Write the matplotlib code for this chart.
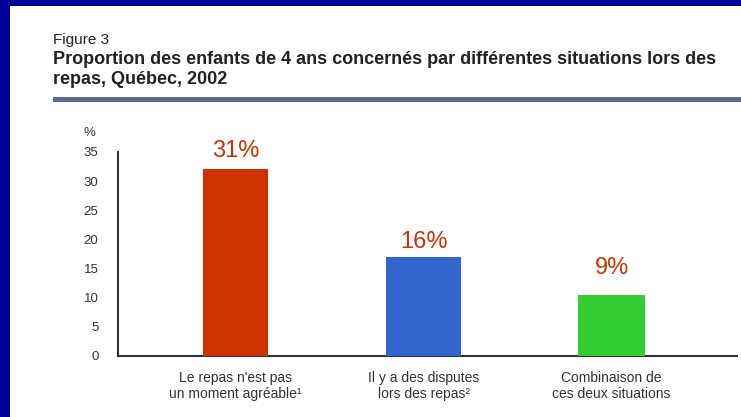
import matplotlib
matplotlib.use("Agg")
import matplotlib.pyplot as plt
from matplotlib.patches import Rectangle

# data
categories = ["Le repas n'est pas\nun moment agréable\u00b9",
              "Il y a des disputes\nlors des repas\u00b2",
              "Combinaison de\nces deux situations"]
values = [32, 17, 10.5]
value_labels = ["31%", "16%", "9%"]
yticks = [0, 5, 10, 15, 20, 25, 30, 35]

# styles
bar_colors = ["#CC3300", "#3366CC", "#33CC33"]
bar_widths = [0.35, 0.40, 0.36]
label_offsets = [18, 15, 27]  # px above bar top
font = ["Liberation Sans", "DejaVu Sans"]
W, H = 741, 417

fig = plt.figure(figsize=(W / 100, H / 100), dpi=100)
fig.patch.set_facecolor("#000099")

# white page inside navy frame
fig.add_artist(Rectangle((10 / W, 0), 1, (H - 6) / H, transform=fig.transFigure,
                         facecolor="white", edgecolor="none", zorder=0))
# rule under the title
fig.add_artist(Rectangle((53 / W, (H - 102) / H), 1, 5 / H, transform=fig.transFigure,
                         facecolor="#5A6A9A", edgecolor="none", zorder=1))

fig.text(53 / W, 1 - 40 / H, "Figure 3", fontsize=11, family=font,
         color="#222222", va="center", ha="left")
fig.text(53 / W, 1 - 60 / H,
         "Proportion des enfants de 4 ans concernés par différentes situations lors des",
         fontsize=13, weight="bold", family=font, color="#222222", va="center", ha="left")
fig.text(53 / W, 1 - 80 / H, "repas, Québec, 2002",
         fontsize=13, weight="bold", family=font, color="#222222", va="center", ha="left")
fig.text(89 / W, 1 - 133 / H, "%", fontsize=9.5, family=font,
         color="#333333", va="center", ha="center")

ax = fig.add_axes([118 / W, (H - 356) / H, (737 - 118) / W, (356 - 152) / H])
ax.set_facecolor("none")
x = list(range(len(categories)))
bars = ax.bar(x, values, width=bar_widths, color=bar_colors, zorder=1)

ax.set_xlim(-0.625, 2.667)
ax.set_ylim(0, 35)
ax.set_yticks(yticks)
ax.set_xticks(x)
ax.set_xticklabels(categories, family=font, fontsize=10, color="#333333")
for lab in ax.get_yticklabels():
    lab.set_family(font)
    lab.set_fontsize(9.5)
    lab.set_color("#333333")
ax.tick_params(axis="both", length=0)
ax.tick_params(axis="y", pad=14)
ax.tick_params(axis="x", pad=11)
for s in ["top", "right"]:
    ax.spines[s].set_visible(False)
for s in ["left", "bottom"]:
    ax.spines[s].set_color("#333333")
    ax.spines[s].set_linewidth(1.5)
    ax.spines[s].set_zorder(0.5)

for b, txt, off in zip(bars, value_labels, label_offsets):
    ax.annotate(txt, (b.get_x() + b.get_width() / 2, b.get_height()),
                xytext=(0, off * 0.72), textcoords="offset points",
                ha="center", va="center", fontsize=17, color="#CC3300",
                family=font)

fig.savefig("out.png", dpi=100, facecolor=fig.get_facecolor())
